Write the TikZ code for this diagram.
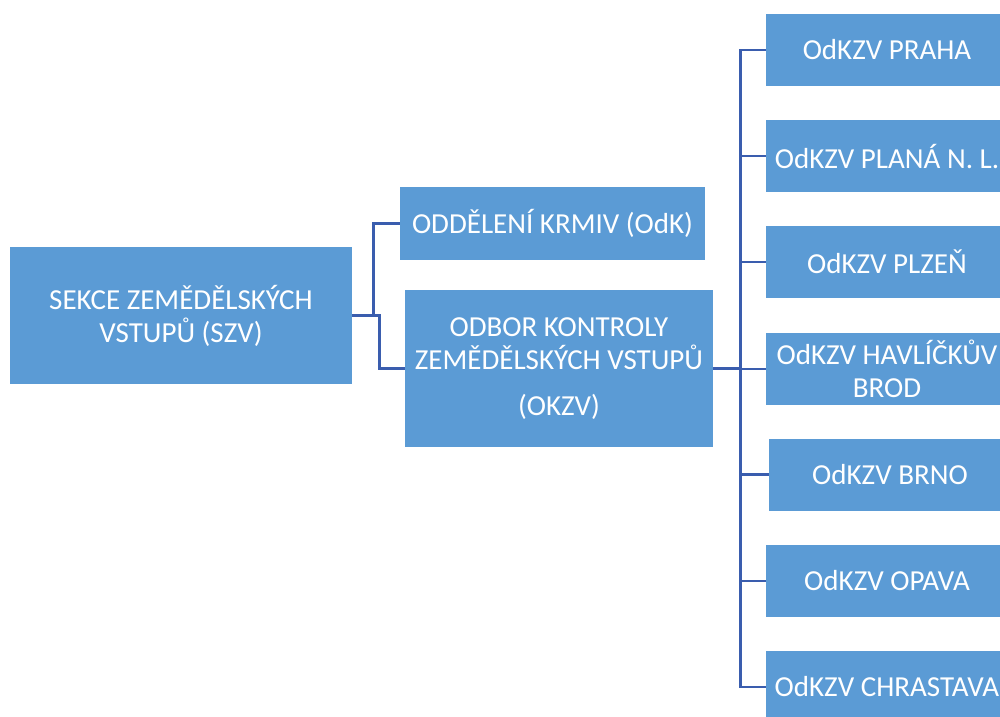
\documentclass[tikz,border=0pt]{standalone}
\usepackage{fontspec}
\setmainfont{Carlito}
\usepackage{xcolor}
\usepackage{tikz}

\definecolor{boxblue}{HTML}{5B9BD5}
\definecolor{linkblue}{HTML}{3A5DAE}

\begin{document}
\begin{tikzpicture}[x=1pt,y=-1pt]
			\tikzstyle{unit} = [fill=boxblue, text=white, align=center, inner sep=0pt, font=\fontsize{29}{33}\selectfont]
			\tikzstyle{branch} = [unit, minimum width=242, minimum height=72]
			\tikzset{link/.style = {draw=linkblue, line width=2.6pt}}
			
			\useasboundingbox (0,0) rectangle (1000,716);
			\clip (0,0) rectangle (1000,716);
			
			\node[unit, minimum width=342, minimum height=137](szv) at (181,315.5) {SEKCE ZEMĚDĚLSKÝCH\\VSTUPŮ (SZV)};
			\node[unit, minimum width=305, minimum height=73](odk) at (552.5,223.5) {ODDĚLENÍ KRMIV (OdK)};
			\node[unit, minimum width=308, minimum height=157](okzv) at (559,368.5) {ODBOR KONTROLY\\ZEMĚDĚLSKÝCH VSTUPŮ\\[13pt](OKZV)};
			\draw[link](szv.east) -- ++(21,0) |- (odk.west);
			\draw[link](szv.east) -- ++(27,0) |- (okzv.west);
			
			\node[branch](praha) at (887,50) {OdKZV PRAHA};
			\node[branch](plana) at (887,156) {OdKZV PLANÁ N. L.};
			\node[branch](plzen) at (887,262) {OdKZV PLZEŇ};
			\node[branch](havlbrod) at (887,369) {OdKZV HAVLÍČKŮV\\BROD};
			\node[branch](brno) at (890,474.5) {OdKZV BRNO};
			\node[branch](opava) at (887,581) {OdKZV OPAVA};
			\node[branch](chrastava) at (887,687) {OdKZV CHRASTAVA};
			
			\coordinate (trunk) at ([xshift=27]okzv.east);
			\draw[link](okzv.east) -- (trunk);
			\foreach \b in {praha,plana,plzen,havlbrod,brno,opava,chrastava}
				\draw[link](trunk) |- (\b.west);
			
\end{tikzpicture}
\end{document}
